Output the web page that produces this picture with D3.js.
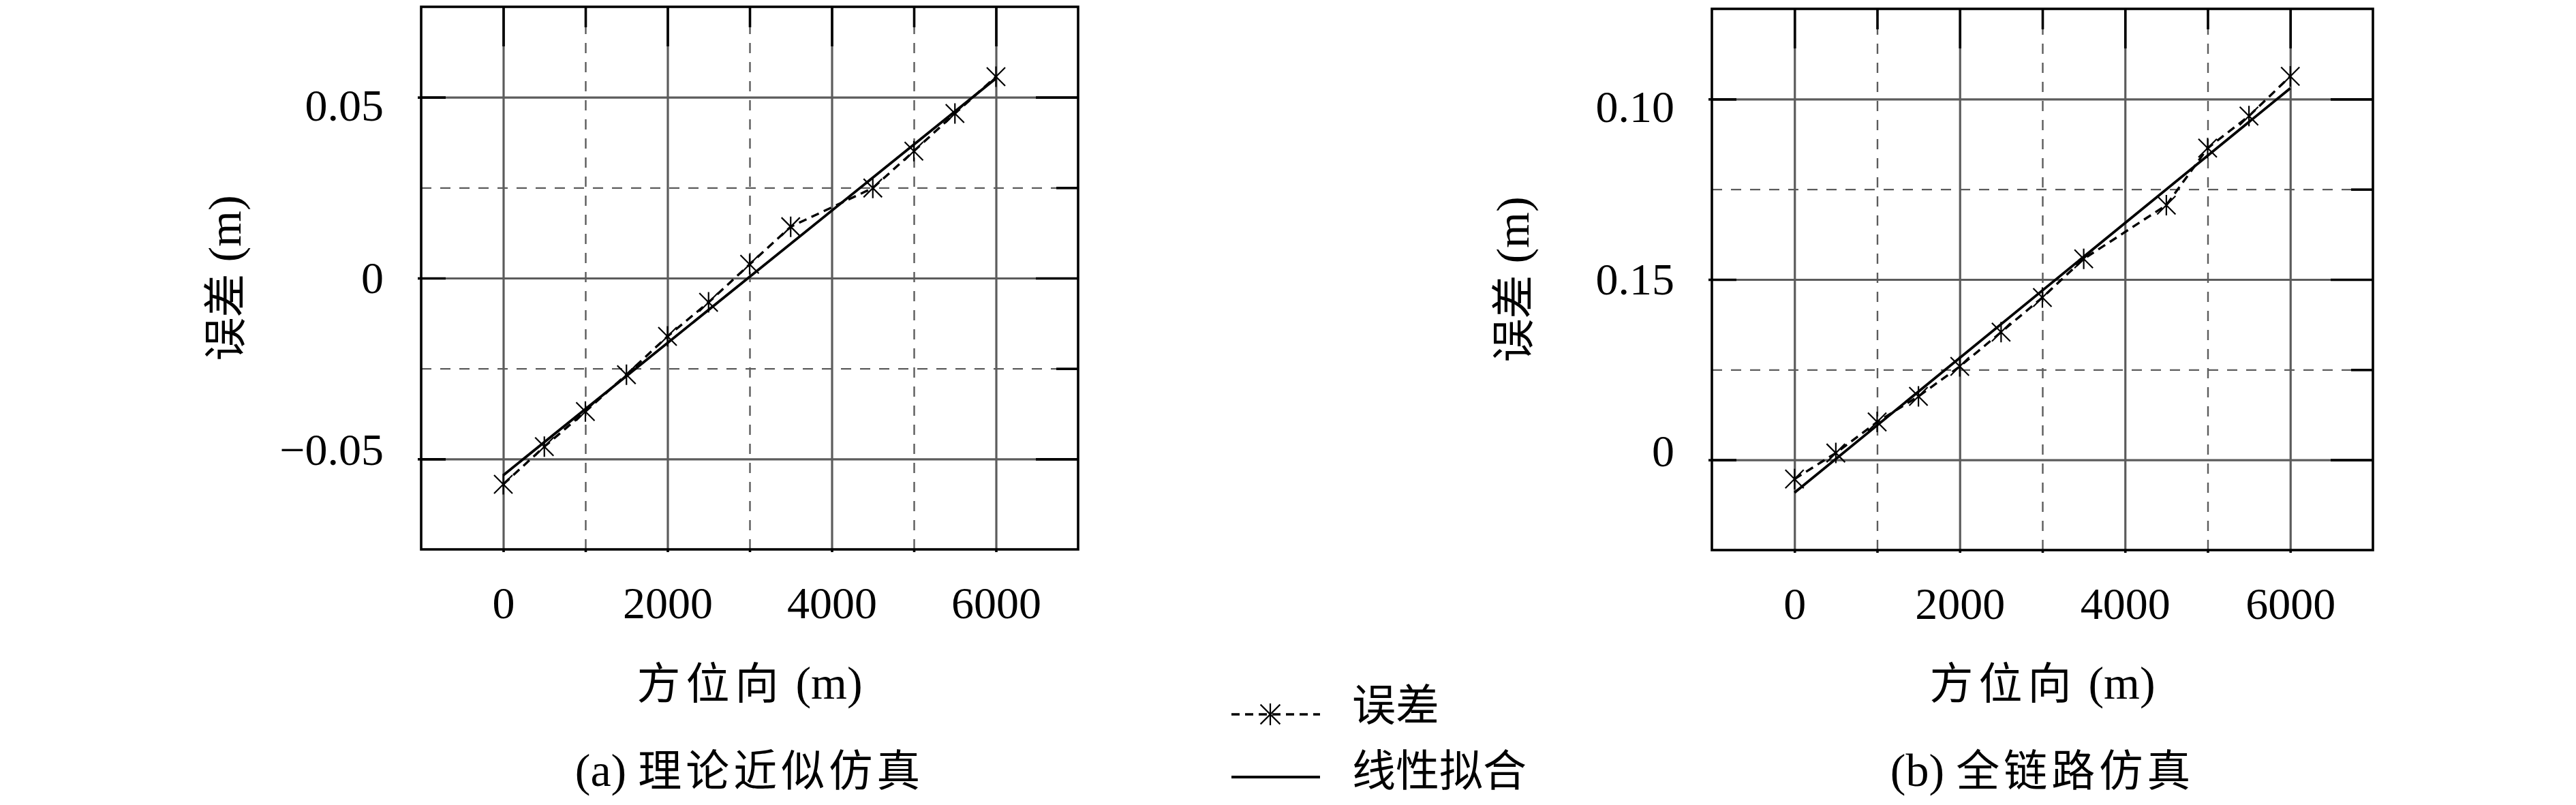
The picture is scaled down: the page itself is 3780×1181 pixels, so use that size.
<!DOCTYPE html>
<html>
<head>
<meta charset="utf-8">
<script src="https://cdn.jsdelivr.net/npm/d3@7"></script>
<style>
  html, body { margin: 0; padding: 0; background: #fff; }
  svg { display: block; }
</style>
</head>
<body>
<svg id="chart" width="3780" height="1181"></svg>
<script>
// ---------------- data ----------------
const azimuth = [0, 500, 1000, 1500, 2000, 2500, 3000, 3500, 4500, 5000, 5500, 6000];
const errorA = [-0.0570, -0.0466, -0.0369, -0.0267, -0.0161, -0.0067, 0.0038, 0.0142, 0.0249, 0.0351, 0.0455, 0.0557];
const fitXA = [0, 6000];
const fitYA = [-0.0545, 0.0552];
const errorB = [-0.0053, 0.0019, 0.0105, 0.0176, 0.0259, 0.0354, 0.0450, 0.0557, 0.0706, 0.0864, 0.0953, 0.1063];
const fitXB = [0, 6000];
const fitYB = [-0.0091, 0.1030];

const xDomain = [-1000, 7000];
const xMajorTicks = [0, 2000, 4000, 6000];
const xMinorTicks = [1000, 3000, 5000];
const xTickLabels = ["0", "2000", "4000", "6000"];

const yDomainA = [-0.075, 0.075];
const yMajorTicksA = [-0.05, 0, 0.05];
const yMinorTicksA = [-0.025, 0.025];
const yTickLabelsA = ["\u22120.05", "0", "0.05"];

const yDomainB = [-0.025, 0.125];
const yMajorTicksB = [0, 0.05, 0.10];
const yMinorTicksB = [0.025, 0.075];
const yTickLabelsB = ["0", "0.15", "0.10"];

const xTitle = "方位向";
const yTitle = "误差";
const unit = "(m)";
const captions = [["(a)", "理论近似仿真"], ["(b)", "全链路仿真"]];
const legendLabels = ["误差", "线性拟合"];

// ---------------- drawing ----------------
const svg = d3.select("#chart");
const LATIN = "'Liberation Serif', 'DejaVu Serif', serif";
const CJK = "'Noto Sans CJK SC', sans-serif";
const GRID = "#5c5c5c";

function asteriskPath(cx, cy, r) {
  const p = d3.path();
  const d = r * 0.9;
  p.moveTo(cx, cy - r); p.lineTo(cx, cy + r);
  p.moveTo(cx - d, cy - d); p.lineTo(cx + d, cy + d);
  p.moveTo(cx - d, cy + d); p.lineTo(cx + d, cy - d);
  return p.toString();
}

const panels = [
  { left: 618, right: 1582, top: 10, bottom: 806, yDomain: yDomainA, yMajor: yMajorTicksA, yMinor: yMinorTicksA,
    yLabels: yTickLabelsA, err: errorA, fitX: fitXA, fitY: fitYA, yTitleX: 353, caption: captions[0] },
  { left: 2512, right: 3482, top: 13, bottom: 807, yDomain: yDomainB, yMajor: yMajorTicksB, yMinor: yMinorTicksB,
    yLabels: yTickLabelsB, err: errorB, fitX: fitXB, fitY: fitYB, yTitleX: 2243, caption: captions[1] }
];

panels.forEach(P => {
  const w = P.right - P.left, h = P.bottom - P.top;
  const x = d3.scaleLinear().domain(xDomain).range([0, w]);
  const y = d3.scaleLinear().domain(P.yDomain).range([h, 0]);
  // label scale (labels sit slightly compressed toward centre, as in the reference)
  const k = 0.953, c = h / 2;
  const yLab = y.copy().range([c + (h - c) * k, c - c * k]);

  const g = svg.append("g").attr("transform", `translate(${P.left},${P.top})`);

  // grid: minor dashed
  g.append("g").attr("transform", `translate(0,${h})`)
    .call(d3.axisBottom(x).tickValues(xMinorTicks).tickSize(-h).tickFormat(""))
    .call(s => s.select(".domain").remove())
    .selectAll("line").attr("stroke", GRID).attr("stroke-width", 2.4).attr("stroke-dasharray", "15,13");
  g.append("g")
    .call(d3.axisLeft(y).tickValues(P.yMinor).tickSize(-w).tickFormat(""))
    .call(s => s.select(".domain").remove())
    .selectAll("line").attr("stroke", GRID).attr("stroke-width", 2.4).attr("stroke-dasharray", "15,13");
  // grid: major solid
  g.append("g").attr("transform", `translate(0,${h})`)
    .call(d3.axisBottom(x).tickValues(xMajorTicks).tickSize(-h).tickFormat(""))
    .call(s => s.select(".domain").remove())
    .selectAll("line").attr("stroke", GRID).attr("stroke-width", 3.2);
  g.append("g")
    .call(d3.axisLeft(y).tickValues(P.yMajor).tickSize(-w).tickFormat(""))
    .call(s => s.select(".domain").remove())
    .selectAll("line").attr("stroke", GRID).attr("stroke-width", 3.2);

  // tick marks (black)
  const tickStyle = s => { s.select(".domain").remove(); s.selectAll("line").attr("stroke", "#000").attr("stroke-width", 3.6); };
  g.append("g").call(d3.axisTop(x).tickValues(xMajorTicks).tickSize(-58).tickFormat("")).call(tickStyle);
  g.append("g").call(d3.axisTop(x).tickValues(xMinorTicks).tickSize(-30).tickFormat("")).call(tickStyle);
  g.append("g").attr("transform", `translate(${w},0)`)
    .call(d3.axisRight(y).tickValues(P.yMajor).tickSize(-62).tickFormat("")).call(tickStyle);
  g.append("g").attr("transform", `translate(${w},0)`)
    .call(d3.axisRight(y).tickValues(P.yMinor).tickSize(-32).tickFormat("")).call(tickStyle);
  g.append("g").call(d3.axisLeft(y).tickValues(P.yMajor).tickSize(-36).tickFormat("")).call(tickStyle);
  g.append("g").call(d3.axisLeft(y).tickValues(P.yMajor).tickSize(5).tickFormat("")).call(tickStyle);
  g.append("g").attr("transform", `translate(0,${h})`)
    .call(d3.axisBottom(x).tickValues(xMajorTicks.concat(xMinorTicks)).tickSize(4).tickFormat("")).call(tickStyle);

  // tick labels
  const xl = g.append("g").attr("transform", `translate(0,${h})`)
    .call(d3.axisBottom(x).tickValues(xMajorTicks).tickSize(0).tickPadding(54)
      .tickFormat((d, i) => xTickLabels[i]));
  xl.select(".domain").remove();
  xl.selectAll("text").attr("font-family", LATIN).attr("font-size", 66).attr("fill", "#000");

  const yl = g.append("g")
    .call(d3.axisLeft(yLab).tickValues(P.yMajor).tickSize(0).tickPadding(55)
      .tickFormat((d, i) => P.yLabels[i]));
  yl.select(".domain").remove();
  yl.selectAll("text").attr("font-family", LATIN).attr("font-size", 66).attr("fill", "#000");

  // fit line
  const fitData = P.fitX.map((d, i) => [d, P.fitY[i]]);
  g.append("path").datum(fitData)
    .attr("d", d3.line().x(d => x(d[0])).y(d => y(d[1])))
    .attr("fill", "none").attr("stroke", "#000").attr("stroke-width", 3.8);

  // error line (dashed) with asterisks
  const errData = azimuth.map((d, i) => [d, P.err[i]]);
  g.append("path").datum(errData)
    .attr("d", d3.line().x(d => x(d[0])).y(d => y(d[1])))
    .attr("fill", "none").attr("stroke", "#000").attr("stroke-width", 3.4).attr("stroke-dasharray", "12,8");
  g.selectAll(".ast").data(errData).enter().append("path")
    .attr("d", d => asteriskPath(x(d[0]), y(d[1]), 15))
    .attr("fill", "none").attr("stroke", "#000").attr("stroke-width", 2.2);

  // frame
  g.append("rect").attr("width", w).attr("height", h)
    .attr("fill", "none").attr("stroke", "#000").attr("stroke-width", 3.6);

  // x axis title
  const cx = w / 2;
  const xt = g.append("text").attr("x", cx).attr("y", 1025 - P.top).attr("text-anchor", "middle")
    .attr("font-size", 64).attr("fill", "#000");
  xt.append("tspan").attr("font-family", CJK).attr("letter-spacing", 8).text(xTitle);
  xt.append("tspan").attr("font-family", LATIN).attr("font-size", 68).text(" " + unit);

  // y axis title (rotated)
  const yt = svg.append("text")
    .attr("transform", `translate(${P.yTitleX},${P.top + h / 2}) rotate(-90)`)
    .attr("text-anchor", "middle").attr("font-size", 64).attr("fill", "#000");
  yt.append("tspan").attr("font-family", CJK).text(yTitle);
  yt.append("tspan").attr("font-family", LATIN).attr("font-size", 68).text(" " + unit);

  // caption
  const ct = g.append("text").attr("x", cx).attr("y", 1153 - P.top).attr("text-anchor", "middle")
    .attr("font-size", 64).attr("fill", "#000");
  ct.append("tspan").attr("font-family", LATIN).attr("font-size", 68).text(P.caption[0] + " ");
  ct.append("tspan").attr("font-family", CJK).attr("letter-spacing", 6).text(P.caption[1]);
});

// ---------------- legend ----------------
const lg = svg.append("g");
const lx0 = 1807, lx1 = 1937;
lg.append("line").attr("x1", lx0).attr("x2", lx1).attr("y1", 1048).attr("y2", 1048)
  .attr("stroke", "#000").attr("stroke-width", 3.4).attr("stroke-dasharray", "12,8");
lg.append("path").attr("d", asteriskPath(1864, 1048, 16))
  .attr("fill", "none").attr("stroke", "#000").attr("stroke-width", 2.2);
lg.append("line").attr("x1", lx0).attr("x2", lx1).attr("y1", 1140).attr("y2", 1140)
  .attr("stroke", "#000").attr("stroke-width", 4.2);
lg.append("text").attr("x", 1984).attr("y", 1057).attr("font-family", CJK).attr("font-size", 64)
  .attr("fill", "#000").text(legendLabels[0]);
lg.append("text").attr("x", 1984).attr("y", 1153).attr("font-family", CJK).attr("font-size", 64)
  .attr("fill", "#000").text(legendLabels[1]);
</script>
</body>
</html>
